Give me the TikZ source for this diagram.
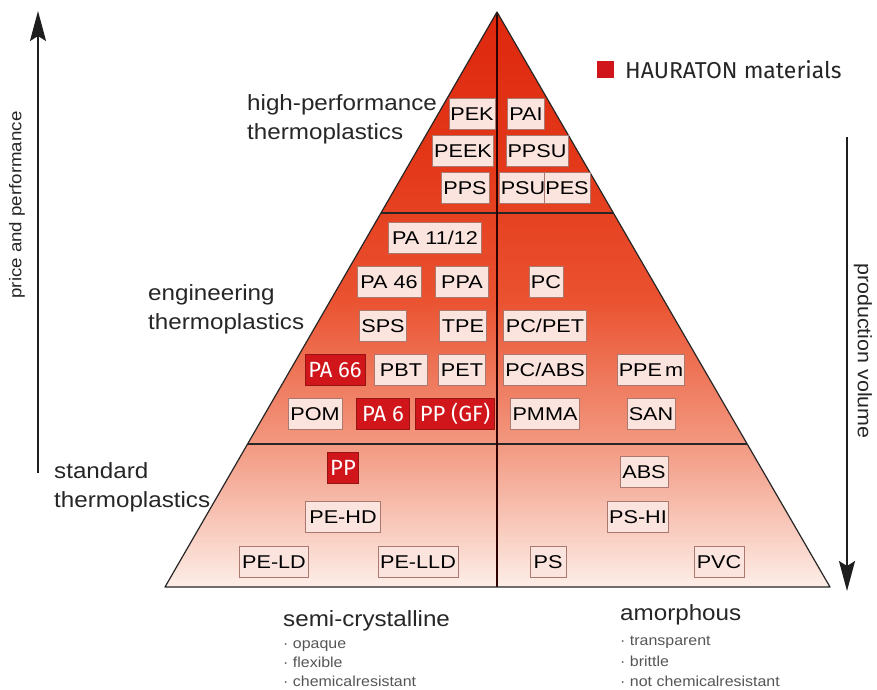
\documentclass[tikz,border=0pt]{standalone}
\usepackage{fontspec}
\setmainfont{Liberation Sans}[FakeStretch=1.1]
\newfontfamily\boxfont{Liberation Sans}[FakeStretch=1.17]
\newfontfamily\dinfont{Fira Sans}
\usetikzlibrary{arrows.meta,calc}
\definecolor{c0}{RGB}{253,238,232}
\definecolor{c1}{RGB}{242,152,128}
\definecolor{c2}{RGB}{234,82,48}
\definecolor{c3}{RGB}{227,55,24}
\definecolor{c4}{RGB}{222,40,14}
\definecolor{boxfill}{RGB}{252,228,222}
\definecolor{boxborder}{RGB}{170,120,110}
\definecolor{hred}{RGB}{208,22,26}
\definecolor{hredborder}{RGB}{150,20,20}
\definecolor{arrowgray}{RGB}{30,30,30}
\definecolor{bulletgray}{RGB}{85,85,85}
\pgfdeclareverticalshading{pyr}{100bp}{color(0bp)=(c0); color(25bp)=(c0); color(37.5bp)=(c1); color(50bp)=(c2); color(62.5bp)=(c3); color(75bp)=(c4); color(100bp)=(c4)}
\tikzset{
  mat/.style={draw=boxborder, fill=boxfill, line width=0.7pt, inner xsep=1.5pt, inner ysep=0pt,
    minimum height=31pt, font=\boxfont\fontsize{18.5}{20}\selectfont, text=black},
  hmat/.style={mat, fill=hred, draw=hredborder, text=white, font=\dinfont\fontsize{22}{22}\selectfont},
  lbl/.style={anchor=base west, align=left, font=\fontsize{22}{29}\selectfont, text=black!85, inner sep=0pt},
  bul/.style={anchor=base west, inner sep=0pt, font=\fontsize{14.5}{15}\selectfont, text=bulletgray},
  divline/.style={line width=1.2pt, draw=black!85},
  bigarrow/.style={line width=1.8pt, draw=arrowgray, -{Stealth[length=30pt,width=16pt,inset=5pt]}},
}
\begin{document}
\begin{tikzpicture}[x=1pt,y=-1pt]
\useasboundingbox (0,0) rectangle (877,689);
% pyramid
\coordinate (A) at (497,12);
\coordinate (BL) at (165,587);
\coordinate (BR) at (830,587);
\coordinate (BM) at (497,587);
\shade[shading=pyr] (A) -- (BL) -- (BR) -- cycle;
\coordinate (h1l) at ($(A)!0.3496!(BL)$);
\coordinate (h1r) at ($(A)!0.3496!(BR)$);
\coordinate (h2l) at ($(A)!0.7513!(BL)$);
\coordinate (h2r) at ($(A)!0.7513!(BR)$);
\draw[divline] (h1l) -- (h1r);
\draw[divline] (h2l) -- (h2r);
\draw[divline, draw=black!70!red!60!black] (A) -- (BM);
\draw[divline, line join=round] (A) -- (BL) -- (BR) -- cycle;

% high-performance
\node[mat, minimum width=44pt] (pek) at (472,114) {PEK};
\node[mat, minimum width=37pt] (pai) at (526,114) {PAI};
\node[mat, minimum width=61pt] (peek) at (463,151) {PEEK};
\node[mat, minimum width=59pt] (ppsu) at (537,151) {PPSU};
\node[mat, minimum width=48pt] (pps) at (465,188) {PPS};
\node[mat, minimum width=44pt] (psu) at (523,188) {PSU};
\node[mat, minimum width=45pt] (pes) at (567,188) {PES};
% engineering
\node[mat, minimum width=93pt] (pa1112) at (435,238) {PA 11/12};
\node[mat, minimum width=64pt] (pa46) at (389,282) {PA 46};
\node[mat, minimum width=53pt] (ppa) at (462,282) {PPA};
\node[mat, minimum width=34pt] (pc) at (546,282) {PC};
\node[mat, minimum width=47pt] (sps) at (383,326) {SPS};
\node[mat, minimum width=47pt] (tpe) at (463,326) {TPE};
\node[mat, minimum width=83pt] (pcpet) at (545,326) {PC/PET};
\node[hmat, minimum width=60pt] (pa66) at (335,370) {PA 66};
\node[mat, minimum width=53pt] (pbt) at (401,370) {PBT};
\node[mat, minimum width=47pt] (pet) at (462,370) {PET};
\node[mat, minimum width=83pt] (pcabs) at (545,370) {PC/ABS};
\node[mat, minimum width=64pt] (ppem) at (651,370) {PPE\,m};
\node[mat, minimum width=54pt] (pom) at (315,414) {POM};
\node[hmat, minimum width=53pt] (pa6) at (383,414) {PA 6};
\node[hmat, minimum width=79pt] (ppgf) at (455,414) {PP (GF)};
\node[mat, minimum width=69pt] (pmma) at (545,414) {PMMA};
\node[mat, minimum width=48pt] (san) at (651,414) {SAN};
% standard
\node[hmat, minimum width=31pt] (pp) at (343,468) {PP};
\node[mat, minimum width=48pt] (abs) at (644,472) {ABS};
\node[mat, minimum width=75pt] (pehd) at (343,517) {PE-HD};
\node[mat, minimum width=61pt] (pshi) at (638,517) {PS-HI};
\node[mat, minimum width=69pt] (peld) at (274,562) {PE-LD};
\node[mat, minimum width=80pt] (pelld) at (418,562) {PE-LLD};
\node[mat, minimum width=36pt] (ps) at (548,562) {PS};
\node[mat, minimum width=50pt] (pvc) at (719,562) {PVC};

% category labels (anchor = baseline of the last line)
\node[lbl] (lhp) at (247,139) {high-performance\\thermoplastics};
\node[lbl] (leng) at (148,329) {engineering\\thermoplastics};
\node[lbl] (lstd) at (54,507) {standard\\thermoplastics};

% bottom labels
\node[lbl] (lsemi) at (283,626) {semi-crystalline};
\node[bul] (b1) at (283,648) {· opaque};
\node[bul] (b2) at (283,667) {· flexible};
\node[bul] (b3) at (283,686) {· chemicalresistant};
\node[lbl] (lamor) at (620,620) {amorphous};
\node[bul] (b4) at (620,645) {· transparent};
\node[bul] (b5) at (620,666) {· brittle};
\node[bul] (b6) at (620,686) {· not chemicalresistant};

% legend
\node[fill=hred, minimum size=17pt, inner sep=0pt] (legsq) at (605.5,69.5) {};
\node[anchor=west, inner sep=0pt, font=\dinfont\fontsize{23}{24}\selectfont, text=black!85] (legtxt) at (625,70) {HAURATON materials};

% axes
\coordinate (pb) at (38,473);
\coordinate (pt) at (38,11);
\draw[bigarrow] (pb) -- (pt);
\node[rotate=90, font=\fontsize{17}{18}\selectfont, text=black!85, inner sep=0pt] (lprice) at (17,205) {price and performance};
\coordinate (vb) at (847,137);
\coordinate (vt) at (847,591);
\draw[bigarrow] (vb) -- (vt);
\node[rotate=-90, font=\fontsize{19.5}{20}\selectfont, text=black!85, inner sep=0pt] (lprod) at (863,351) {production volume};
\end{tikzpicture}
\end{document}
